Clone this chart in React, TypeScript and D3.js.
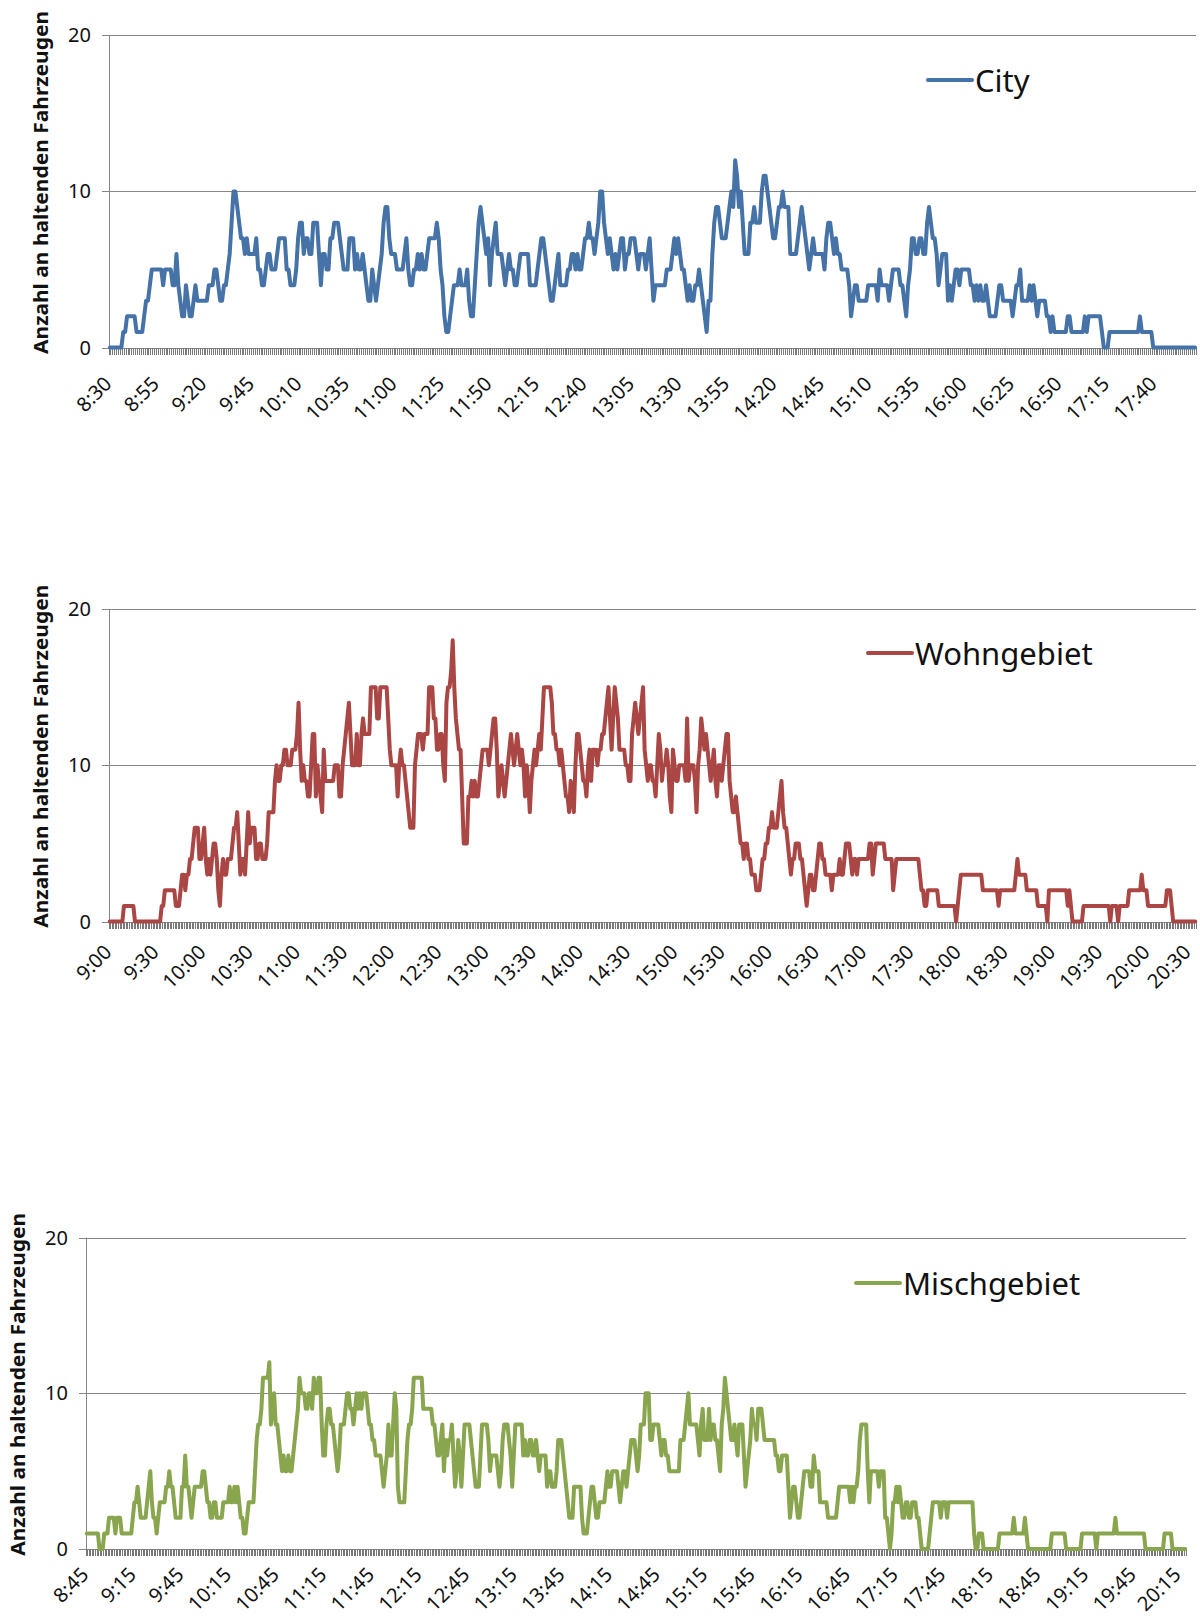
import * as d3 from 'd3';

// parked vehicles per minute
const cityStart = '8:30';
const cityTicks = ['8:30', '8:55', '9:20', '9:45', '10:10', '10:35', '11:00', '11:25', '11:50', '12:15', '12:40', '13:05', '13:30', '13:55', '14:20', '14:45', '15:10', '15:35', '16:00', '16:25', '16:50', '17:15', '17:40'];
const cityValues = [
  0,0,0,0,0,0,0,1,1,2, 2,2,2,2,1,1,1,1,2,3, 3,4,5,5,5,5,5,5,4,5, 5,5,5,4,4,6,4,3,2,2,
  4,3,2,2,3,4,3,3,3,3, 3,3,4,4,4,5,5,4,3,3, 4,4,5,6,8,10,10,9,8,7, 7,6,7,6,6,6,6,7,5,5,
  4,4,5,6,6,5,5,5,6,7, 7,7,7,5,5,4,4,4,5,7, 8,8,6,7,7,6,6,8,8,8, 6,4,6,6,5,5,7,7,8,8,
  8,7,6,5,5,5,7,7,7,5, 6,5,5,6,5,4,3,3,5,4, 3,4,5,6,8,9,9,7,6,6, 6,5,5,5,5,6,7,5,4,4,
  5,5,6,5,6,5,5,6,7,7, 7,7,8,7,5,4,2,1,1,2, 3,4,4,4,5,4,4,4,5,3, 2,2,4,6,8,9,8,7,6,7,
  4,6,7,8,6,6,6,5,4,5, 6,5,5,4,4,5,6,6,6,6, 6,4,4,4,4,5,6,7,7,6, 5,4,3,3,4,5,6,4,4,4,
  4,5,5,6,6,5,6,5,5,6, 7,7,8,7,7,6,7,8,10,10, 8,7,6,7,6,5,6,5,6,7, 7,5,6,6,7,7,7,6,5,6,
  6,6,5,6,7,5,3,4,4,4, 4,4,4,5,5,5,6,7,6,7, 6,5,5,4,3,4,3,3,4,4, 5,4,3,2,1,3,3,6,8,9,
  9,8,7,7,7,8,9,10,9,12, 11,9,10,8,6,6,6,8,8,9, 8,8,8,10,11,11,10,9,8,7, 7,8,9,9,10,9,9,9,6,6,
  6,6,7,8,9,8,7,6,5,6, 7,6,6,6,6,6,5,7,8,8, 7,6,7,6,6,5,5,5,5,4, 2,3,4,4,3,3,3,3,3,4,
  4,4,4,4,3,5,4,4,4,4, 3,4,5,5,5,5,4,4,3,2, 4,5,7,7,6,6,7,7,6,6, 8,9,8,7,7,6,4,5,6,6,
  6,3,4,3,4,5,5,4,5,5, 5,5,5,4,4,3,4,3,4,3, 3,4,3,2,2,2,2,3,4,4, 3,3,3,3,3,2,3,4,4,5,
  3,3,3,3,4,3,4,3,2,3, 3,3,3,2,2,1,2,1,1,1, 1,1,1,1,2,2,1,1,1,1, 1,1,1,2,1,2,2,2,2,2,
  2,2,1,0,0,0,1,1,1,1, 1,1,1,1,1,1,1,1,1,1, 1,1,2,1,1,1,1,1,1,0, 0,0,0,0,0,0,0,0,0,0,
  0,0,0,0,0,0,0,0,0,0, 0,0,
];

const wohnStart = '9:00';
const wohnTicks = ['9:00', '9:30', '10:00', '10:30', '11:00', '11:30', '12:00', '12:30', '13:00', '13:30', '14:00', '14:30', '15:00', '15:30', '16:00', '16:30', '17:00', '17:30', '18:00', '18:30', '19:00', '19:30', '20:00', '20:30'];
const wohnValues = [
  0,0,0,0,0,0,0,0,0,1, 1,1,1,1,1,1,0,0,0,0, 0,0,0,0,0,0,0,0,0,0, 0,0,0,1,1,2,2,2,2,2,
  2,2,1,1,1,2,3,3,2,3, 3,4,4,5,6,6,6,4,4,5, 6,4,3,4,3,4,5,5,4,2, 1,3,4,3,3,4,4,4,5,6,
  6,7,5,3,4,4,3,5,7,5, 6,6,6,4,4,5,5,4,4,4, 5,7,7,7,7,9,10,9,9,10, 10,11,11,10,10,10,11,11,11,12,
  14,11,9,10,9,9,8,8,10,12, 12,8,10,9,8,7,11,9,9,9, 9,9,9,10,10,10,8,8,10,11, 12,13,14,12,10,10,10,12,10,10,
  12,13,12,12,12,12,15,15,15,15, 13,13,15,15,15,15,15,13,11,10, 10,10,10,8,10,11,10,10,9,8, 7,6,6,6,10,11,12,12,12,11,
  12,12,12,15,15,15,13,13,11,11, 12,12,10,9,14,15,15,16,18,15, 13,12,11,11,8,5,5,5,8,8, 9,8,9,8,8,9,10,11,11,11,
  11,10,11,12,13,13,11,8,9,10, 9,8,9,10,11,12,11,10,11,12, 11,10,11,10,8,10,9,7,9,10, 11,10,11,12,11,13,15,15,15,15,
  15,14,12,12,11,11,10,11,10,9, 8,8,7,9,8,7,10,12,12,11, 10,9,9,8,10,11,9,11,11,11, 10,11,11,12,12,13,14,15,13,11,
  13,15,14,13,11,11,11,11,10,10, 9,9,12,13,14,13,12,13,14,15, 11,10,9,10,10,9,9,8,10,12, 11,9,10,10,11,10,8,7,11,10,
  9,9,10,10,10,10,9,13,9,10, 10,10,9,7,10,11,13,12,11,12, 11,10,9,10,11,9,8,10,10,9, 10,11,12,12,9,8,7,7,8,7,
  6,5,5,4,5,5,4,4,3,3, 3,2,2,2,3,4,4,5,5,6, 6,7,6,6,6,7,8,9,7,6, 6,5,4,3,4,4,5,5,5,4,
  4,3,2,1,2,3,3,2,2,3, 4,5,5,4,4,3,3,3,3,2, 3,3,3,3,4,3,3,4,5,5, 5,4,3,4,4,3,4,4,4,4,
  4,4,4,5,5,3,4,5,5,5, 5,5,5,4,4,4,4,4,2,3, 4,4,4,4,4,4,4,4,4,4, 4,4,4,4,4,3,2,2,1,1,
  2,2,2,2,2,2,2,1,1,1, 1,1,1,1,1,1,1,1,0,1, 2,3,3,3,3,3,3,3,3,3, 3,3,3,3,3,2,2,2,2,2,
  2,2,2,2,2,1,2,2,2,2, 2,2,2,2,2,2,3,4,3,3, 3,3,3,2,2,2,2,2,2,2, 1,1,1,1,1,1,0,2,2,2,
  2,2,2,2,2,2,2,2,2,1, 2,1,0,0,0,0,0,0,0,1, 1,1,1,1,1,1,1,1,1,1, 1,1,1,1,1,1,0,1,1,1,
  1,0,1,1,1,1,1,1,2,2, 2,2,2,2,2,2,3,2,2,2, 1,1,1,1,1,1,1,1,1,1, 1,1,2,2,2,1,0,0,0,0,
  0,0,0,0,0,0,0,0,0,0, 0,
];

const mischStart = '8:45';
const mischTicks = ['8:45', '9:15', '9:45', '10:15', '10:45', '11:15', '11:45', '12:15', '12:45', '13:15', '13:45', '14:15', '14:45', '15:15', '15:45', '16:15', '16:45', '17:15', '17:45', '18:15', '18:45', '19:15', '19:45', '20:15'];
const mischValues = [
  1,1,1,1,1,1,1,1,0,0, 0,1,1,1,2,2,2,2,1,2, 2,2,1,1,1,1,1,1,1,2, 3,3,4,3,2,2,2,2,3,4,
  5,3,2,2,1,2,3,3,3,3, 4,4,5,4,4,3,2,2,2,2, 4,4,6,4,4,3,2,3,4,4, 4,4,4,5,5,4,3,3,2,2,
  3,3,2,2,2,2,3,3,3,3, 4,3,3,4,3,4,3,2,2,1, 1,2,3,3,3,3,5,7,8,8, 9,11,11,11,11,12,8,9,10,8,
  8,7,6,5,6,5,5,6,5,5, 6,7,8,9,11,10,10,10,9,9, 10,10,9,11,10,10,11,11,8,6, 6,8,9,9,8,8,7,6,5,6,
  8,8,8,9,10,10,9,9,8,9, 10,9,10,9,10,10,10,9,8,8, 7,7,6,6,6,6,5,4,5,6, 8,6,6,8,10,9,4,3,3,3,
  3,5,7,8,8,9,11,11,11,11, 11,11,9,9,9,9,9,9,8,8, 7,6,6,7,8,5,7,6,7,7, 8,6,4,5,7,6,4,6,8,8,
  8,8,7,6,5,4,4,4,6,8, 8,8,8,7,5,6,6,6,6,5, 4,5,7,8,8,8,7,6,4,6, 8,8,8,8,8,6,7,6,6,7,
  7,6,6,7,6,5,6,6,6,6, 4,5,5,4,4,4,5,7,7,7, 6,5,4,3,2,2,2,4,4,4, 4,4,2,1,1,1,2,3,4,4,
  3,2,2,3,3,3,3,4,5,4, 4,5,5,5,5,4,3,4,5,5, 4,5,6,7,7,7,6,5,6,8, 8,8,10,10,10,7,7,8,8,8,
  8,7,6,7,7,6,6,5,5,5, 5,5,5,5,7,7,7,8,9,10, 8,8,8,8,8,7,6,8,9,7, 7,7,9,7,8,8,7,7,6,5,
  8,9,11,10,9,8,7,7,8,7, 6,8,8,8,6,4,5,6,7,9, 8,8,7,9,9,9,8,7,7,7, 7,7,7,7,6,6,5,5,6,6,
  6,6,4,2,3,4,4,3,2,2, 3,4,5,5,5,5,4,4,6,5, 5,5,3,3,3,3,3,2,2,2, 2,2,2,3,4,4,4,4,4,4,
  4,3,4,3,4,4,5,7,8,8, 8,8,5,3,5,5,5,5,5,4, 5,5,5,2,2,1,0,1,3,3, 4,3,4,3,2,2,3,3,2,2,
  3,3,3,2,2,1,0,0,0,0, 0,1,2,3,3,3,3,3,2,3, 3,3,2,3,3,3,3,3,3,3, 3,3,3,3,3,3,3,3,3,1,
  0,0,1,1,1,0,0,0,0,0, 0,0,0,0,0,1,1,1,1,1, 1,1,1,1,2,1,1,1,1,1, 1,2,1,0,0,0,0,0,0,0,
  0,0,0,0,0,0,0,0,1,1, 1,1,1,1,1,1,1,0,0,0, 0,0,0,0,0,0,0,1,1,1, 1,1,1,1,1,1,0,1,1,1,
  1,1,1,1,1,1,1,1,2,1, 1,1,1,1,1,1,1,1,1,1, 1,1,1,1,1,1,1,0,0,0, 0,0,0,0,0,0,0,0,0,1,
  1,1,1,1,0,0,0,0,0,0, 0,0,0,
];

const yTicks = [0, 10, 20];
const axisTitle = 'Anzahl an haltenden Fahrzeugen';

const toMin = (t: string) => {
  const [h, m] = t.split(':').map(Number);
  return h * 60 + m;
};

type PanelProps = {
  name: string;
  color: string;
  values: number[];
  start: string;
  ticks: string[];
  left: number;
  right: number;
  top: number;
  bottom: number;
  legendX: number;
  legendY: number;
  labelDy: number;
};

function Panel({ name, color, values, start, ticks, left, right, top, bottom, legendX, legendY, labelDy }: PanelProps) {
  const n = values.length;
  const x = d3.scaleBand<number>().domain(d3.range(n)).range([left, right]);
  const y = d3.scaleLinear().domain([0, 20]).range([bottom, top]);
  const cx = (i: number) => (x(i) ?? 0) + x.bandwidth() / 2;
  const line = d3.line<number>().x((_, i) => cx(i)).y((d) => y(d));
  const s0 = toMin(start);
  const grey = '#868686';
  const snap = (v: number) => Math.round(v) + 0.5;

  return (
    <g>
      {/* gridlines + y ticks */}
      {yTicks.map((t) => (
        <g key={t}>
          <line x1={left - 7} x2={right} y1={snap(y(t))} y2={snap(y(t))} stroke={grey} strokeWidth={1} />
          <text x={left - 18} y={y(t) + 7} textAnchor="end" fontSize={20} fill="#111">{t}</text>
        </g>
      ))}
      <line x1={snap(left)} x2={snap(left)} y1={y(20)} y2={y(0)} stroke={grey} strokeWidth={1} />

      {/* one tick per category */}
      <g shapeRendering="crispEdges">
        {d3.range(n + 1).map((i) => {
          const tx = left + i * x.step();
          return <line key={i} x1={tx} x2={tx} y1={y(0)} y2={y(0) + 7} stroke="#7a7a7a" strokeWidth={1} />;
        })}
      </g>

      {ticks.map((t) => {
        const i = toMin(t) - s0;
        // keep the last label inside the page edge
        const tx = Math.min(cx(i) + 3, right - 4);
        const ty = y(0) + labelDy;
        return (
          <text key={t} transform={`translate(${tx},${ty}) rotate(-45)`} textAnchor="end" fontSize={20} fill="#111">
            {t}
          </text>
        );
      })}

      <path d={line(values) ?? ''} fill="none" stroke={color} strokeWidth={4} strokeLinejoin="round" strokeLinecap="round" />

      <text
        transform={`translate(${left - 61},${(y(0) + y(20)) / 2 - 9}) rotate(-90)`}
        textAnchor="middle"
        fontSize={19}
        fontWeight="bold"
        fill="#111"
        textLength={343}
        lengthAdjust="spacingAndGlyphs"
      >
        {axisTitle}
      </text>

      <line x1={legendX} x2={legendX + 44} y1={legendY} y2={legendY} stroke={color} strokeWidth={4} strokeLinecap="round" />
      <text x={legendX + 47} y={legendY + 12} fontSize={31} fill="#111">{name}</text>
    </g>
  );
}

export default function App() {
  return (
    <svg
      width={1200}
      height={1621}
      style={{ position: 'absolute', left: 0, top: 0, background: '#fff' }}
      fontFamily="'Noto Sans', 'Open Sans', sans-serif"
    >
      <Panel name="City" color="#4572A7" values={cityValues} start={cityStart} ticks={cityTicks}
        left={109} right={1196} top={35.3} bottom={347.6} legendX={928} legendY={80} labelDy={37.5} />
      <Panel name="Wohngebiet" color="#AA4643" values={wohnValues} start={wohnStart} ticks={wohnTicks}
        left={109} right={1196} top={609} bottom={921.5} legendX={868} legendY={653} labelDy={32} />
      <Panel name="Mischgebiet" color="#89A54E" values={mischValues} start={mischStart} ticks={mischTicks}
        left={86} right={1186} top={1237.6} bottom={1549} legendX={856} legendY={1283} labelDy={27} />
    </svg>
  );
}
